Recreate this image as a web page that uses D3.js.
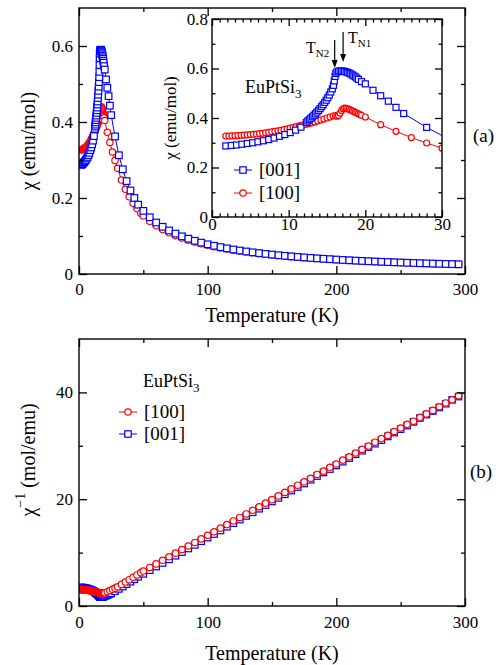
<!DOCTYPE html>
<html>
<head>
<meta charset="utf-8">
<script src="https://cdn.jsdelivr.net/npm/d3@7"></script>
<style>
body { margin: 0; background: #fff; }
svg, svg text { font-family: "Liberation Serif", "DejaVu Serif", serif; }
</style>
</head>
<body>
<svg id="chart" width="502" height="665"></svg>
<script>
'use strict';

// susceptibility, H || [001]
var temp001 = [1.8, 2.5, 3.2, 3.9, 4.6, 5.3, 6.0, 6.7, 7.4, 8.1, 8.8, 9.5, 10.2, 10.9, 11.6,
    12.3, 12.5, 12.7, 12.9, 13.1, 13.3, 13.5, 13.7, 13.9, 14.1, 14.3, 14.5, 14.7, 14.9, 15.1, 15.3, 15.5, 15.7,
    15.85, 15.95, 16.05, 16.15, 16.3, 16.5, 16.7, 16.9, 17.1, 17.3, 17.5, 17.7, 17.9, 18.1, 18.3, 18.5, 18.7, 18.9, 19.1, 19.5,
    20, 21, 22, 23, 24, 25, 28, 31, 34, 37, 40, 43, 46,
    50, 55, 60, 65, 70, 75, 80, 85, 90, 95, 100, 105, 110, 115, 120, 125, 130, 135, 140, 145,
    150, 155, 160, 165, 170, 175, 180, 185, 190, 195, 200, 205, 210, 215, 220, 225, 230, 235, 240, 245,
    250, 255, 260, 265, 270, 275, 280, 285, 290, 295];
var chi001 = [0.287, 0.289, 0.291, 0.294, 0.297, 0.300, 0.304, 0.308, 0.313, 0.319, 0.326, 0.333, 0.341, 0.351, 0.363,
    0.382, 0.388, 0.393, 0.399, 0.405, 0.411, 0.417, 0.424, 0.431, 0.438, 0.446, 0.454, 0.463, 0.472, 0.482, 0.493, 0.505, 0.518,
    0.532, 0.550, 0.568, 0.580, 0.586, 0.589, 0.590, 0.590, 0.589, 0.588, 0.586, 0.584, 0.581, 0.578, 0.574, 0.570, 0.566, 0.561, 0.556, 0.547,
    0.538, 0.512, 0.490, 0.468, 0.443, 0.418, 0.362, 0.3125, 0.2755, 0.2445, 0.2198, 0.2000, 0.1825,
    0.1661, 0.1493, 0.1355, 0.1242, 0.1145, 0.1063, 0.0991, 0.0929, 0.0874, 0.0825, 0.0781, 0.0742, 0.0707, 0.0674, 0.0645, 0.0618, 0.0593, 0.0570, 0.0549, 0.0529,
    0.0511, 0.0494, 0.0478, 0.0463, 0.0449, 0.0436, 0.0423, 0.0411, 0.0400, 0.0390, 0.0380, 0.0370, 0.0361, 0.0352, 0.0344, 0.0336, 0.0329, 0.0322, 0.0315, 0.0308,
    0.0302, 0.0296, 0.0290, 0.0284, 0.0279, 0.0274, 0.0269, 0.0264, 0.0259, 0.0255];

// susceptibility, H || [100]
var temp100 = [1.8, 2.2, 2.6, 3.0, 3.4, 3.8, 4.2, 4.6, 5.0, 5.4, 5.8, 6.2, 6.6, 7.0, 7.4, 7.8, 8.2, 8.6, 9.0, 9.4,
    9.8, 10.2, 10.6, 11.0, 11.4, 11.8, 12.2, 12.6, 13.0, 13.4, 13.8, 14.2, 14.6, 15.0, 15.4, 15.8,
    16.1, 16.3, 16.5, 16.7, 16.9, 17.1, 17.3, 17.5, 17.7, 17.9, 18.1, 18.3, 18.5, 18.7, 18.9, 19.1, 19.3, 19.5,
    20, 22, 24, 26, 28, 30, 33, 36, 39, 42, 45, 48,
    50, 55, 60, 65, 70, 75, 80, 85, 90, 95, 100, 105, 110, 115, 120, 125, 130, 135, 140, 145,
    150, 155, 160, 165, 170, 175, 180, 185, 190, 195, 200, 205, 210, 215, 220, 225, 230, 235, 240, 245,
    250, 255, 260, 265, 270, 275, 280, 285, 290, 295];
var chi100 = [0.327, 0.327, 0.328, 0.328, 0.329, 0.330, 0.331, 0.332, 0.333, 0.334, 0.335, 0.337, 0.338, 0.340, 0.342, 0.344, 0.346, 0.348, 0.350, 0.353,
    0.356, 0.359, 0.362, 0.365, 0.368, 0.371, 0.374, 0.377, 0.381, 0.384, 0.388, 0.392, 0.396, 0.400, 0.404, 0.408,
    0.410, 0.407, 0.410, 0.420, 0.430, 0.437, 0.440, 0.439, 0.437, 0.435, 0.432, 0.429, 0.426, 0.423, 0.420, 0.417, 0.414, 0.411,
    0.404, 0.373, 0.346, 0.321, 0.299, 0.278, 0.2473, 0.2229, 0.2031, 0.1862, 0.1721, 0.1600,
    0.1527, 0.1385, 0.1268, 0.1169, 0.1084, 0.1010, 0.0947, 0.0890, 0.0840, 0.0796, 0.0755, 0.0719, 0.0686, 0.0656, 0.0628, 0.0603, 0.0580, 0.0558, 0.0538, 0.0519,
    0.0502, 0.0485, 0.0470, 0.0456, 0.0442, 0.0430, 0.0418, 0.0406, 0.0396, 0.0385, 0.0376, 0.0366, 0.0358, 0.0349, 0.0341, 0.0334, 0.0326, 0.0319, 0.0313, 0.0306,
    0.0300, 0.0294, 0.0289, 0.0283, 0.0278, 0.0273, 0.0268, 0.0263, 0.0259, 0.0254];

// Curie-Weiss fit drawn in the lower panel
var fitTemp = [100, 300];
var fitInv = [12.95, 40.0];

// transition temperatures marked in the inset
var transLabels = ['N2', 'N1'];
var transTemps = [16.0, 17.1];

var compound = 'EuPtSi';
var seriesLabels = ['[001]', '[100]'];

var xTicks = [0, 100, 200, 300], xMinor = [50, 150, 250];
var yTicksA = [0, 0.2, 0.4, 0.6], yMinorA = [0.1, 0.3, 0.5];
var xTicksIn = [0, 10, 20, 30];
var xMinorIn = [1, 2, 3, 4, 5, 6, 7, 8, 9, 11, 12, 13, 14, 15, 16, 17, 18, 19, 21, 22, 23, 24, 25, 26, 27, 28, 29];
var yTicksIn = [0, 0.2, 0.4, 0.6, 0.8], yMinorIn = [0.1, 0.3, 0.5, 0.7];
var yTicksB = [0, 20, 40], yMinorB = [10, 30];

var blue = '#0000ff', red = '#ff0000';
var serif = '"Liberation Serif", "DejaVu Serif", serif';

var svg = d3.select('#chart').attr('font-family', serif);

var pairs = function(ts, vs) {
    return ts.map(function(t, i) { return {t: t, v: vs[i]}; });
};
var data001 = pairs(temp001, chi001),
    data100 = pairs(temp100, chi100);

var addAxis = function(g, axisFn, scale, transform, major, minor, len, pad, labels) {
    var a = g.append('g').attr('transform', transform)
        .call(axisFn(scale).tickValues(major).tickSize(-len).tickSizeOuter(0).tickPadding(pad)
            .tickFormat(labels ? function(d) { return String(d); } : ''));
    a.append('g').call(axisFn(scale).tickValues(minor).tickSize(-len / 2).tickSizeOuter(0).tickFormat(''));
    a.selectAll('.domain').remove();
    a.attr('font-family', serif).attr('font-size', 17);
    a.selectAll('line').attr('stroke', '#000').attr('stroke-width', 1.3);
    a.selectAll('text').attr('fill', '#000').attr('font-family', serif);
};

var frame = function(g, x, y, o) {
    var x0 = x.range()[0], x1 = x.range()[1], y0 = y.range()[0], y1 = y.range()[1];
    addAxis(g, d3.axisBottom, x, 'translate(0,' + y0 + ')', o.xMajor, o.xMinor, o.len, o.xPad, true);
    addAxis(g, d3.axisTop, x, 'translate(0,' + y1 + ')', o.xMajor, o.xMinor, o.len, 0, false);
    addAxis(g, d3.axisLeft, y, 'translate(' + x0 + ',0)', o.yMajor, o.yMinor, o.len, o.yPad, true);
    addAxis(g, d3.axisRight, y, 'translate(' + x1 + ',0)', o.yMajor, o.yMinor, o.len, 0, false);
    g.append('rect')
        .attr('x', x0).attr('y', y1)
        .attr('width', x1 - x0).attr('height', y0 - y1)
        .attr('fill', 'none').attr('stroke', '#000').attr('stroke-width', 1.4);
};

var clip = function(id, x, y) {
    svg.append('clipPath').attr('id', id).append('rect')
        .attr('x', x.range()[0]).attr('y', y.range()[1])
        .attr('width', x.range()[1] - x.range()[0])
        .attr('height', y.range()[0] - y.range()[1]);
};

// line plus open markers
var series = function(g, data, x, y, color, shape, size, fy) {
    fy = fy || function(d) { return d.v; };
    var line = d3.line().x(function(d) { return x(d.t); }).y(function(d) { return y(fy(d)); });
    g.append('path').datum(data)
        .attr('d', line).attr('fill', 'none')
        .attr('stroke', color).attr('stroke-width', 1);
    if (shape === 'square') {
        g.selectAll(null).data(data).enter().append('rect')
            .attr('x', function(d) { return x(d.t) - size / 2; })
            .attr('y', function(d) { return y(fy(d)) - size / 2; })
            .attr('width', size).attr('height', size)
            .attr('fill', '#fff').attr('stroke', color).attr('stroke-width', 1.2);
    } else {
        g.selectAll(null).data(data).enter().append('circle')
            .attr('cx', function(d) { return x(d.t); })
            .attr('cy', function(d) { return y(fy(d)); })
            .attr('r', size / 2)
            .attr('fill', '#fff').attr('stroke', color).attr('stroke-width', 1.2);
    }
};

var legendItem = function(g, x, y, label, color, shape) {
    g.append('line').attr('x1', x - 9).attr('x2', x + 9).attr('y1', y).attr('y2', y)
        .attr('stroke', color).attr('stroke-width', 1);
    if (shape === 'square') {
        g.append('rect').attr('x', x - 3.2).attr('y', y - 3.2).attr('width', 6.4).attr('height', 6.4)
            .attr('fill', '#fff').attr('stroke', color).attr('stroke-width', 1.2);
    } else {
        g.append('circle').attr('cx', x).attr('cy', y).attr('r', 3.2)
            .attr('fill', '#fff').attr('stroke', color).attr('stroke-width', 1.2);
    }
    g.append('text').attr('x', x + 16).attr('y', y + 6).attr('font-size', 19).text(label);
};

var formula = function(g, x, y) {
    var t = g.append('text').attr('x', x).attr('y', y).attr('font-size', 18).text(compound);
    t.append('tspan').attr('dy', 5).attr('font-size', 13).text('3');
};

// ---- panel (a) ----
var xA = d3.scaleLinear().domain([0, 300]).range([79, 465]);
var yA = d3.scaleLinear().domain([0, 0.7]).range([274, 8]);
clip('clipA', xA, yA);

var gA = svg.append('g');
var plotA = gA.append('g').attr('clip-path', 'url(#clipA)');
series(plotA, data100, xA, yA, red, 'circle', 6.4);
series(plotA, data001, xA, yA, blue, 'square', 6.6);
frame(gA, xA, yA, {xMajor: xTicks, xMinor: xMinor, yMajor: yTicksA, yMinor: yMinorA, len: 8, xPad: 9, yPad: 6});

gA.append('text').attr('x', 272).attr('y', 322).attr('text-anchor', 'middle')
    .attr('font-size', 20).text('Temperature (K)');
gA.append('text').attr('transform', 'translate(35,141) rotate(-90)').attr('text-anchor', 'middle')
    .attr('font-size', 20).text('\u03c7 (emu/mol)');
gA.append('text').attr('x', 473).attr('y', 142).attr('font-size', 19).text('(a)');

// ---- inset ----
var xI = d3.scaleLinear().domain([0, 30]).range([212, 442]);
var yI = d3.scaleLinear().domain([0, 0.8]).range([217, 19]);
clip('clipI', xI, yI);

var gI = svg.append('g');
gI.append('rect').attr('x', 212).attr('y', 19).attr('width', 230).attr('height', 198).attr('fill', '#fff');
var plotI = gI.append('g').attr('clip-path', 'url(#clipI)');
var inInset = function(d) { return d.t <= 34; };
series(plotI, data100.filter(inInset), xI, yI, red, 'circle', 6);
series(plotI, data001.filter(inInset), xI, yI, blue, 'square', 6);
frame(gI, xI, yI, {xMajor: xTicksIn, xMinor: xMinorIn, yMajor: yTicksIn, yMinor: yMinorIn, len: 7, xPad: 1, yPad: 4});

gI.append('text').attr('transform', 'translate(176,118) rotate(-90)').attr('text-anchor', 'middle')
    .attr('font-size', 17).text('\u03c7 (emu/mol)');
formula(gI, 245, 93);
legendItem(gI, 243, 170, seriesLabels[0], blue, 'square');
legendItem(gI, 243, 193, seriesLabels[1], red, 'circle');

// arrows at the Neel temperatures
var arrowTop = [40, 32], arrowBot = [68, 62], labelX = [306, 348], labelY = [53, 43];
transTemps.forEach(function(t, i) {
    var ax = xI(t);
    gI.append('line').attr('x1', ax).attr('x2', ax).attr('y1', arrowTop[i]).attr('y2', arrowBot[i] - 6)
        .attr('stroke', '#000').attr('stroke-width', 1.2);
    gI.append('path')
        .attr('d', 'M' + (ax - 3) + ',' + (arrowBot[i] - 8) + 'L' + (ax + 3) + ',' + (arrowBot[i] - 8) + 'L' + ax + ',' + arrowBot[i] + 'Z')
        .attr('fill', '#000');
    var lt = gI.append('text').attr('x', labelX[i]).attr('y', labelY[i]).attr('font-size', 16).text('T');
    lt.append('tspan').attr('dy', 4).attr('font-size', 11).text(transLabels[i]);
});

// ---- panel (b) ----
var xB = d3.scaleLinear().domain([0, 300]).range([79, 465]);
var yB = d3.scaleLinear().domain([0, 50]).range([606, 339]);
clip('clipB', xB, yB);

var inv = function(d) { return 1 / d.v; };
var gB = svg.append('g');
var plotB = gB.append('g').attr('clip-path', 'url(#clipB)');
series(plotB, data001, xB, yB, blue, 'square', 6.4, inv);
plotB.append('path').datum(pairs(fitTemp, fitInv))
    .attr('d', d3.line().x(function(d) { return xB(d.t); }).y(function(d) { return yB(d.v); }))
    .attr('stroke', '#000').attr('stroke-width', 1).attr('fill', 'none');
series(plotB, data100, xB, yB, red, 'circle', 6.4, inv);
frame(gB, xB, yB, {xMajor: xTicks, xMinor: xMinor, yMajor: yTicksB, yMinor: yMinorB, len: 8, xPad: 10, yPad: 6});

gB.append('text').attr('x', 272).attr('y', 660).attr('text-anchor', 'middle')
    .attr('font-size', 20).text('Temperature (K)');
var yt = gB.append('text').attr('transform', 'translate(35,460) rotate(-90)').attr('text-anchor', 'middle')
    .attr('font-size', 20).text('\u03c7');
yt.append('tspan').attr('dy', -10).attr('font-size', 14).text('\u22121');
yt.append('tspan').attr('dy', 10).text(' (mol/emu)');
gB.append('text').attr('x', 470).attr('y', 478).attr('font-size', 19).text('(b)');

formula(gB, 143, 387);
legendItem(gB, 128, 412, seriesLabels[1], red, 'circle');
legendItem(gB, 128, 434, seriesLabels[0], blue, 'square');
</script>
</body>
</html>
